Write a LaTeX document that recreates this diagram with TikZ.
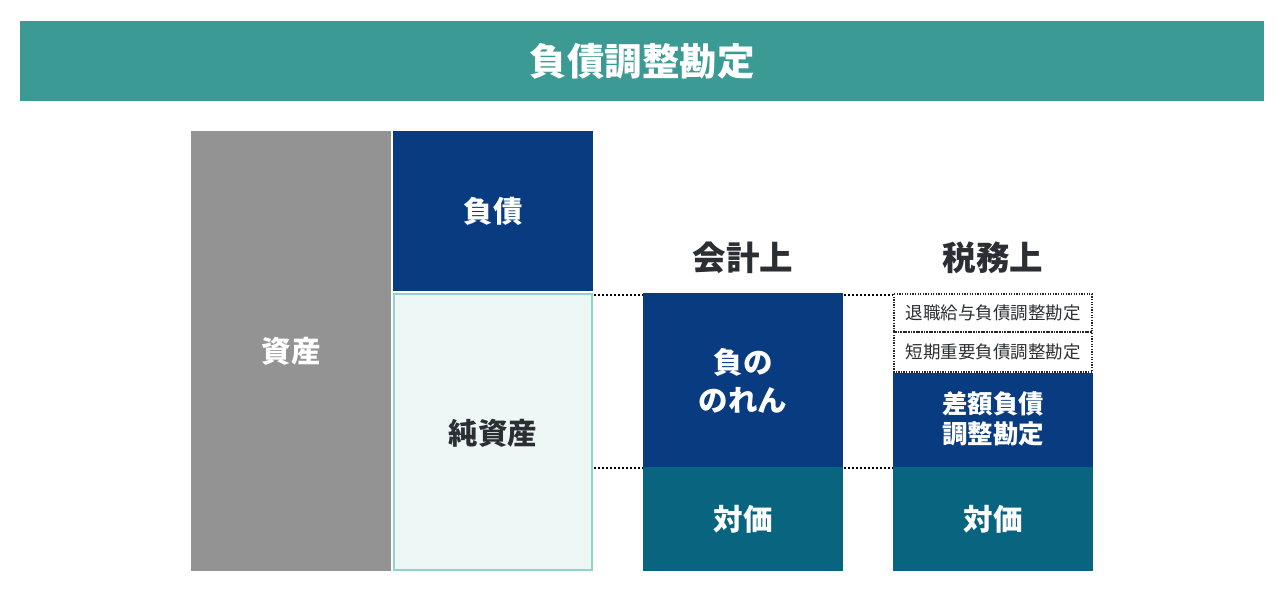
\documentclass[tikz,border=0pt]{standalone}
\usepackage{fontspec}
\setmainfont{Noto Sans CJK JP}
\usetikzlibrary{positioning}
\definecolor{banner}{HTML}{3C9A94}
\definecolor{asset}{HTML}{939393}
\definecolor{navy}{HTML}{083B80}
\definecolor{tealbox}{HTML}{08647F}
\definecolor{paleg}{HTML}{EDF7F5}
\definecolor{mint}{HTML}{8FD3CB}
\definecolor{ink}{HTML}{2B2F33}
\tikzset{
  blk/.style={inner sep=0pt, outer sep=0pt, anchor=north west},
  lbl/.style={font=\bfseries\fontsize{29.5}{38}\selectfont, text=white, align=center},
  lbls/.style={font=\bfseries\fontsize{25.5}{30}\selectfont, text=white, align=center},
  head/.style={font=\bfseries\fontsize{33.5}{36}\selectfont, text=ink},
  small/.style={font=\fontsize{17.5}{19}\selectfont, text=ink},
  dots/.style={line width=2pt, dash pattern=on 2pt off 2pt, black},
  sdots/.style={line width=1.3pt, dash pattern=on 1.3pt off 1.3pt, black!85}
}
\begin{document}
\begin{tikzpicture}[x=1pt,y=-1pt]
\useasboundingbox (0,0) rectangle (1284,592);
% banner
\fill[banner] (20,21) rectangle (1264,101);
\node[font=\bfseries\fontsize{37.5}{40}\selectfont, text=white] (title) at (642,61) {負債調整勘定};
% balance sheet
\fill[asset] (191,131) rectangle (391,571);
\node[lbl] (shisan) at (291,351) {資産};
\fill[navy] (393,131) rectangle (593,291);
\node[lbl] (fusai) at (493,211) {負債};
\filldraw[fill=paleg, draw=mint, line width=2pt] (394,294) rectangle (592,570);
\node[lbl, text=ink] (junshisan) at (493,433) {純資産};
% accounting
\node[head] (kaikei) at (743,258) {会計上};
\fill[navy] (643,293) rectangle (843,467);
\node[lbl] (noren) at (743,381) {負の\\のれん};
\fill[tealbox] (643,467) rectangle (843,571);
\node[lbl] (taika1) at (743,519) {対価};
% tax
\node[head] (zeimu) at (993,258) {税務上};
\draw[sdots] (894,294) rectangle (1092,332);
\node[small] (taishoku) at (993,313) {退職給与負債調整勘定};
\draw[sdots] (894,332) rectangle (1092,372);
\node[small] (tanki) at (993,352) {短期重要負債調整勘定};
\fill[navy] (893,373) rectangle (1093,467);
\node[lbls] (sagaku) at (993,419) {差額負債\\調整勘定};
\fill[tealbox] (893,467) rectangle (1093,571);
\node[lbl] (taika2) at (993,519) {対価};
% dotted connectors
\coordinate (a1) at (594,294.5);
\coordinate (a2) at (643,294.5);
\coordinate (b1) at (594,467.5);
\coordinate (b2) at (643,467.5);
\coordinate (c1) at (844,294.5);
\coordinate (c2) at (893,294.5);
\coordinate (d1) at (844,467.5);
\coordinate (d2) at (893,467.5);
\draw[dots] (a1) -- (a2);
\draw[dots] (b1) -- (b2);
\draw[dots] (c1) -- (c2);
\draw[dots] (d1) -- (d2);
\end{tikzpicture}
\end{document}
